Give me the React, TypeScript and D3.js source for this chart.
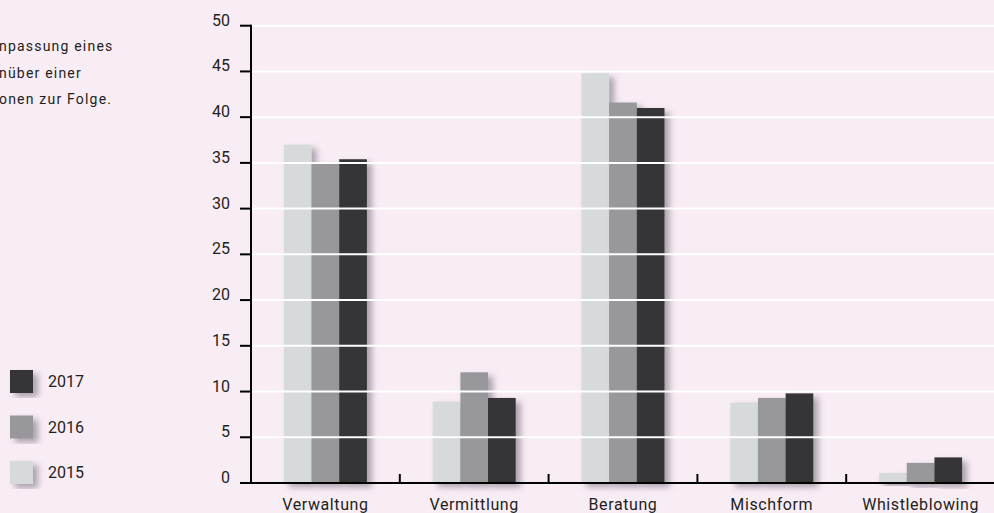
import React from "react";
import * as d3 from "d3";

const categories = ["Verwaltung", "Vermittlung", "Beratung", "Mischform", "Whistleblowing"];
const years = ["2015", "2016", "2017"];
const values2015 = [37, 8.9, 44.8, 8.8, 1.1];
const values2016 = [35, 12.1, 41.6, 9.3, 2.2];
const values2017 = [35.4, 9.3, 41.0, 9.8, 2.8];
const yTicks = [0, 5, 10, 15, 20, 25, 30, 35, 40, 45, 50];
const introLines = ["npassung eines", "nüber einer", "onen zur Folge."];
const legendOrder = ["2017", "2016", "2015"];

const colors: Record<string, string> = { "2015": "#d6dadb", "2016": "#98979b", "2017": "#363437" };

export default function App() {
  const W = 994, H = 513;
  const x0 = 251, x1 = 995, yTop = 25.7, yBottom = 483;
  const series = [values2015, values2016, values2017];
  const x = d3.scaleBand().domain(categories).range([x0, x1]).paddingInner(0).paddingOuter(0);
  const y = d3.scaleLinear().domain([0, 50]).range([yBottom, yTop]);
  const groupW = 83;
  const xi = d3.scaleBand().domain(years).range([0, groupW]).padding(0);
  const font = "Roboto, 'DejaVu Sans', sans-serif";
  const textColor = "#231f20";
  return (
    <div style={{ position: "fixed", left: 0, top: 0 }}>
      <svg width={W} height={H} style={{ display: "block" }}>
        <defs>
          <filter id="sh" x="-30%" y="-10%" width="180%" height="130%">
            <feDropShadow dx="5" dy="4" stdDeviation="3" floodColor="#6d6470" floodOpacity="0.55" />
          </filter>
        </defs>
        <rect width={W} height={H} fill="#f8ecf5" />
        {introLines.map((t, i) => (
          <text key={i} x={-1} y={51 + i * 26.5} fontFamily={font} fontSize={14} letterSpacing={1.2} fill={textColor}>{t}</text>
        ))}
        {legendOrder.map((yr, i) => (
          <g key={yr}>
            <rect x={10} y={370 + i * 45.5} width={23} height={23} fill={colors[yr]} filter="url(#sh)" />
            <text x={48} y={387 + i * 45.5} fontFamily={font} fontSize={16} fill={textColor}>{yr}</text>
          </g>
        ))}
        {categories.map((c, ci) => (
          <g key={c} transform={`translate(${(x(c) as number) + (x.bandwidth() - groupW) / 2},0)`}>
            {years.map((yr, si) => (
              <rect key={yr} x={xi(yr) as number} y={y(series[si][ci])} width={xi.bandwidth()}
                height={yBottom - y(series[si][ci])} fill={colors[yr]} filter="url(#sh)" />
            ))}
          </g>
        ))}
        {yTicks.filter(t => t > 0).map(t => (
          <line key={t} x1={x0} x2={W} y1={y(t)} y2={y(t)} stroke="#ffffff" strokeWidth={2} />
        ))}
        <line x1={x0} x2={x0} y1={yTop - 1} y2={yBottom + 1} stroke="#000" strokeWidth={2} />
        <line x1={240} x2={W} y1={yBottom} y2={yBottom} stroke="#000" strokeWidth={2} />
        {yTicks.map(t => (
          <g key={t}>
            <line x1={240} x2={x0} y1={y(t)} y2={y(t)} stroke="#000" strokeWidth={2} />
            <text x={230} y={y(t)} textAnchor="end" fontFamily={font} fontSize={16} fill={textColor}>{t}</text>
          </g>
        ))}
        {categories.slice(1).map(c => (
          <line key={c} x1={x(c) as number} x2={x(c) as number} y1={yBottom} y2={yBottom - 9} stroke="#000" strokeWidth={2} />
        ))}
        {categories.map(c => (
          <text key={c} x={(x(c) as number) + x.bandwidth() / 2} y={510} textAnchor="middle" fontFamily={font} fontSize={16} letterSpacing={0.6} fill={textColor}>{c}</text>
        ))}
      </svg>
    </div>
  );
}
